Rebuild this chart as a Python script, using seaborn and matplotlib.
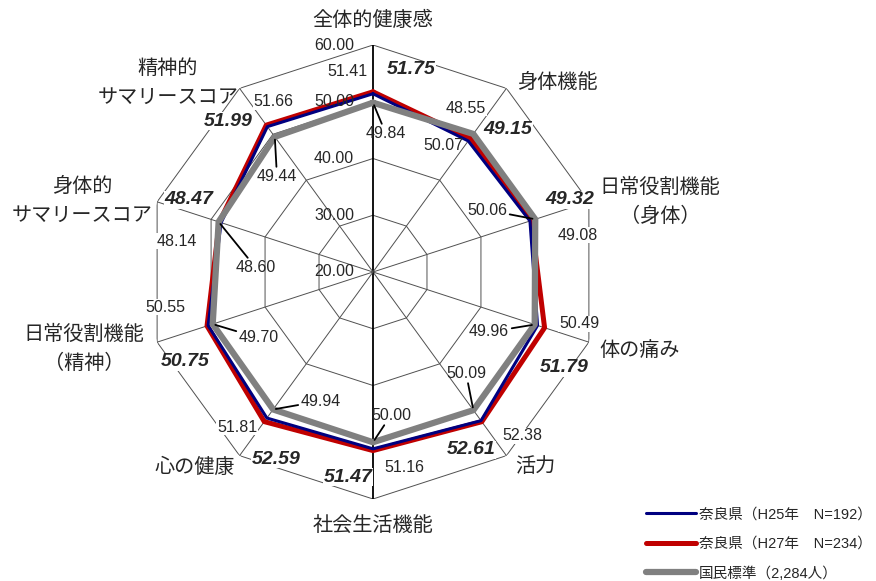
import numpy as np
import pandas as pd
import seaborn as sns
import matplotlib
matplotlib.use("Agg")
import matplotlib.pyplot as plt
from matplotlib.transforms import offset_copy

# ---------------- data ----------------
categories = ["全体的健康感", "身体機能", "日常役割機能\n（身体）", "体の痛み", "活力",
              "社会生活機能", "心の健康", "日常役割機能\n（精神）", "身体的\nサマリースコア",
              "精神的\nサマリースコア"]
h25 = [51.41, 48.55, 49.08, 50.49, 52.38, 51.16, 51.81, 50.55, 48.14, 51.66]
h27 = [51.75, 49.15, 49.32, 51.79, 52.61, 51.47, 52.59, 50.75, 48.47, 51.99]
national = [49.84, 50.07, 50.06, 49.96, 50.09, 50.00, 49.94, 49.70, 48.60, 49.44]
ring_ticks = [20, 30, 40, 50, 60]
series_labels = ["奈良県（H25年　N=192）", "奈良県（H27年　N=234）", "国民標準（2,284人）"]

# ---------------- style ----------------
sns.set_style("white")
plt.rcParams["font.family"] = ["Liberation Sans", "Noto Sans CJK JP", "DejaVu Sans"]

W, H = 876, 581
fig = plt.figure(figsize=(W / 100, H / 100), dpi=100)
cx, cy, R = 373, 272, 227
ax = fig.add_axes([(cx - R) / W, 1 - (cy + R) / H, 2 * R / W, 2 * R / H], projection="polar")
ax.set_theta_offset(np.pi / 2)
ax.set_theta_direction(-1)


def P(x, y):
    return (x / W, 1 - y / H)


n = len(categories)
theta = np.linspace(0, 2 * np.pi, n, endpoint=False)
theta_c = np.append(theta, theta[0] + 2 * np.pi)

# grid: decagon rings and spokes
for r in ring_ticks[1:]:
    ax.plot(theta_c, [r] * (n + 1), color="#505050", lw=0.7, zorder=1)
for i, t in enumerate(theta):
    vertical = i in (0, n // 2)
    ax.plot([t, t], [ring_ticks[0], ring_ticks[-1]],
            color="black" if vertical else "#505050",
            lw=1.3 if vertical else 0.7, zorder=1)

# data lines via seaborn
rows = []
for lab, vals in zip(series_labels, [h25, h27, national]):
    vc = list(vals) + [vals[0]]
    for t, v in zip(theta_c, vc):
        rows.append({"theta": t, "value": v, "series": lab})
df = pd.DataFrame(rows)

styles = {
    series_labels[1]: ("#C00000", 3.6),
    series_labels[0]: ("#000080", 2.2),
    series_labels[2]: ("#808080", 4.5),
}
handles = {}
for lab in [series_labels[1], series_labels[0], series_labels[2]]:
    c, lw = styles[lab]
    sns.lineplot(data=df[df["series"] == lab], x="theta", y="value", sort=False,
                 estimator=None, color=c, linewidth=lw, ax=ax, legend=False, zorder=3)
    handles[lab] = ax.lines[-1]

ax.set_ylim(ring_ticks[0], ring_ticks[-1])
ax.set_xticks([])
ax.set_yticks([])
ax.grid(False)
ax.spines["polar"].set_visible(False)
ax.set_xlabel("")
ax.set_ylabel("")
ax.patch.set_alpha(0)

# ring tick labels
tr = offset_copy(ax.transData, fig=fig, x=-19, y=0, units="dots")
for r in ring_ticks:
    ax.text(0, r, f"{r:.2f}", transform=tr, ha="right", va="center", fontsize=11.5, zorder=4)

# category labels
cat_pos = [(373, 20), (557, 82), (660, 202), (640, 350), (535, 466),
           (373, 525), (195, 467), (84, 349), (82, 201), (168, 83)]
for lab, (x, y) in zip(categories, cat_pos):
    fig.text(*P(x, y), lab, ha="center", va="center", fontsize=14.5,
             linespacing=1.62, multialignment="center")

# value labels
h25_pos = [(347, 71), (466, 108), (578, 235), (579, 324), (522, 436),
           (404, 467), (237, 427), (165, 307), (177, 241), (273, 102)]
h27_pos = [(411, 70), (508, 130), (570, 200), (564, 368), (471, 450),
           (348, 477), (276, 459), (185, 362), (189, 200), (228, 121)]
nat_pos = [(386, 134), (443, 145), (487, 210), (489, 332), (466, 373),
           (391, 415), (321, 401), (259, 338), (256, 268), (277, 177)]
nat_leader = [True, False, True, True, True, True, True, True, True, True]

wb = dict(facecolor="white", edgecolor="none", pad=0.3)
for v, (x, y) in zip(h25, h25_pos):
    fig.text(*P(x, y), f"{v:.2f}", ha="center", va="center", fontsize=11.5,
             bbox=wb, zorder=2)
for v, (x, y) in zip(h27, h27_pos):
    fig.text(*P(x, y), f"{v:.2f}", ha="center", va="center", fontsize=14,
             fontweight="bold", fontstyle="italic", bbox=wb, zorder=2)
for t, v, (x, y), lead in zip(theta, national, nat_pos, nat_leader):
    if lead:
        ax.annotate(f"{v:.2f}", xy=(t, v), xycoords="data",
                    xytext=P(x, y), textcoords="figure fraction",
                    ha="center", va="center", fontsize=11.5, zorder=5,
                    bbox=dict(facecolor="none", edgecolor="none", pad=2),
                    arrowprops=dict(arrowstyle="-", color="black", lw=1.3,
                                    shrinkA=0, shrinkB=2))
    else:
        fig.text(*P(x, y), f"{v:.2f}", ha="center", va="center", fontsize=11.5, zorder=5)

# legend
leg = fig.legend([handles[l] for l in series_labels], series_labels,
                 loc="center left", bbox_to_anchor=(0.731, 1 - 544 / H),
                 frameon=False, fontsize=10.5, handlelength=3.4, handletextpad=0.2,
                 labelspacing=1.05, borderaxespad=0)

fig.savefig("out.png", dpi=100)
